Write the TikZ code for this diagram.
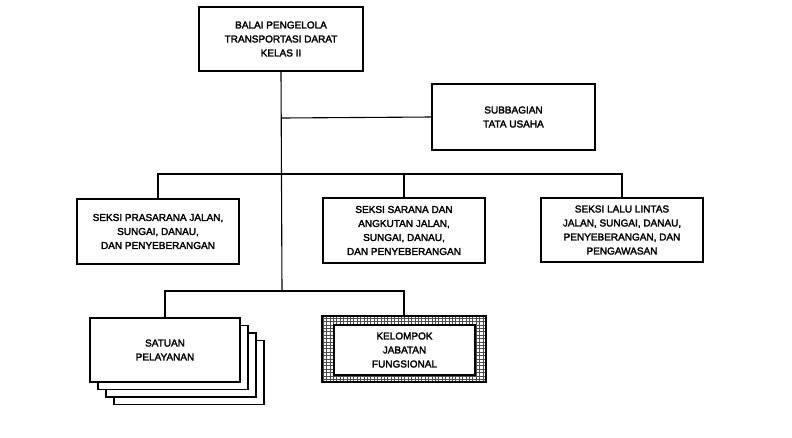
\documentclass[tikz,border=0pt]{standalone}
\usepackage{fontspec}
\newfontfamily\orgfont{Liberation Sans}[FakeBold=2.5]
\usetikzlibrary{patterns}
% light square mesh for the frame of the functional group
\pgfdeclarepatternformonly{meshgrid}{\pgfqpoint{-0.5pt}{-0.5pt}}{\pgfqpoint{3.9pt}{3.9pt}}{\pgfqpoint{3.4pt}{3.4pt}}{
  \pgfsetlinewidth{0.45pt}
  \pgfpathmoveto{\pgfqpoint{0pt}{-0.5pt}}\pgfpathlineto{\pgfqpoint{0pt}{3.9pt}}
  \pgfpathmoveto{\pgfqpoint{-0.5pt}{0pt}}\pgfpathlineto{\pgfqpoint{3.9pt}{0pt}}
  \pgfusepath{stroke}}
\begin{document}
\begin{tikzpicture}[x=1pt,y=-1pt,
  line width=1.1pt,
  box/.style={draw, fill=white, inner sep=0pt, align=center,
    font=\orgfont\fontsize{10}{14}\selectfont},
  link/.style={draw, line width=1.1pt}]
\useasboundingbox (0,0) rectangle (792,437);

% head office
\node[box, minimum width=164pt, minimum height=64pt] (top) at (281,39)
  {BALAI PENGELOLA\\TRANSPORTASI DARAT\\KELAS II};

% administration
\node[box, minimum width=163pt, minimum height=66pt] (sub) at (513.5,117)
  {SUBBAGIAN\\TATA USAHA};

% sections
\node[box, minimum width=162pt, minimum height=65pt] (s1) at (158,231.5)
  {SEKSI PRASARANA JALAN,\\SUNGAI, DANAU,\\DAN PENYEBERANGAN};
\node[box, minimum width=162pt, minimum height=65pt] (s2) at (404,230.5)
  {SEKSI SARANA DAN\\ANGKUTAN JALAN,\\SUNGAI, DANAU,\\DAN PENYEBERANGAN};
\node[box, minimum width=162pt, minimum height=64pt] (s3) at (622,230)
  {SEKSI LALU LINTAS\\JALAN, SUNGAI, DANAU,\\PENYEBERANGAN, DAN\\PENGAWASAN};

% service units: a stack of sheets
\foreach \k in {3,2,1} {
  \node[box, minimum width=150pt, minimum height=64pt] (su\k)
    at ({165+8*\k},{350+7.5*\k}) {};
}
\node[box, minimum width=150pt, minimum height=64pt] (su) at (165,350)
  {SATUAN\\PELAYANAN};

% functional group with hatched frame
\node[draw, pattern=meshgrid, pattern color=black!70, minimum width=164pt,
  minimum height=66pt, inner sep=0pt] (kf) at (404,349) {};
\node[box, minimum width=141pt, minimum height=50pt] (kfin) at (404.5,350)
  {KELOMPOK\\JABATAN\\FUNGSIONAL};

% junctions of the connectors
\coordinate (jsub) at (282,118);
\coordinate (jsec) at (282,174);
\coordinate (jlow) at (282,291);

\draw[link] (top.south) -- (jlow);
\draw[link] (jsub) -- (sub.west);
\draw[link] (s1.north) |- (jsec) -| (s3.north);
\draw[link] (jsec -| s2.north) -- (s2.north);
\draw[link] (su.north) |- (jlow) -| (kf.north);
\end{tikzpicture}
\end{document}
